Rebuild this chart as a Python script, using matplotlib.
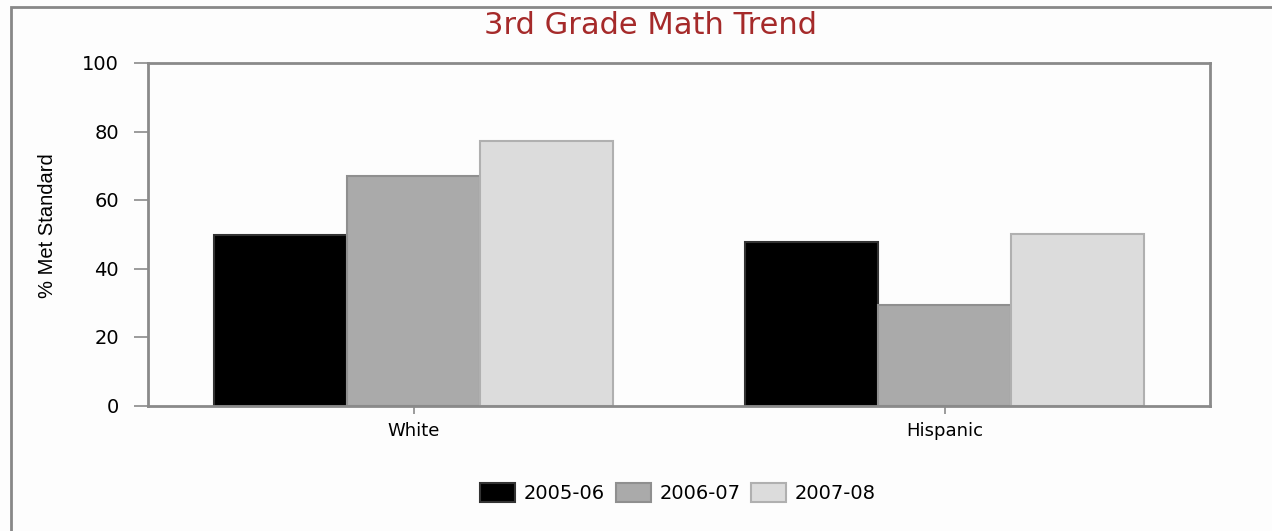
import matplotlib
matplotlib.use("Agg")
import matplotlib.pyplot as plt
from matplotlib.patches import Rectangle
import numpy as np

groups = ["White", "Hispanic"]
years = ["2005-06", "2006-07", "2007-08"]
vals_0506 = [49.7, 47.6]
vals_0607 = [67.1, 29.4]
vals_0708 = [77.3, 50.0]

fills = ["#000000", "#aaaaaa", "#dcdcdc"]
edges = ["#333333", "#8f8f8f", "#b0b0b0"]

fig = plt.figure(figsize=(12.72, 5.31), dpi=100)
fig.patch.set_facecolor("#fdfdfd")
# outer frame (runs off the right and bottom edges)
fig.patches.append(Rectangle((11 / 1272, -0.1), 1.2, 1 - 7 / 531 + 0.1,
                             transform=fig.transFigure, fill=False,
                             edgecolor="#888888", linewidth=2))

ax = fig.add_axes([148 / 1272, 1 - 405.5 / 531, (1210 - 148) / 1272, (405.5 - 63) / 531])
ax.set_facecolor("#fdfdfd")

x = np.arange(len(groups))
w = 0.25
for i, (vals, lab) in enumerate(zip([vals_0506, vals_0607, vals_0708], years)):
    ax.bar(x + (i - 1) * w, vals, w, color=fills[i], edgecolor=edges[i],
           linewidth=1.5, label=lab)

ax.set_xlim(-0.5, 1.5)
ax.set_ylim(0, 100)
ax.set_yticks([0, 20, 40, 60, 80, 100])
ax.set_xticks(x)
ax.set_xticklabels(groups)
for s in ax.spines.values():
    s.set_color("#8a8a8a")
    s.set_linewidth(2)
ax.tick_params(axis="y", length=10, width=1.2, color="#8a8a8a",
               labelsize=14, pad=11)
ax.tick_params(axis="x", length=6, width=1.2, color="#8a8a8a",
               labelsize=13, pad=6)
for t in ax.get_xticklabels() + ax.get_yticklabels():
    t.set_fontfamily("DejaVu Sans")

ax.set_ylabel("% Met Standard", fontsize=14.5, family="Liberation Sans")
ax.yaxis.set_label_coords(-0.086, 0.526)

fig.text(651 / 1272, 1 - 25 / 531, "3rd Grade Math Trend", color="#a52a2a",
         fontsize=22, ha="center", va="center", family="DejaVu Sans")

leg = fig.legend(loc="center", bbox_to_anchor=(678 / 1272, 1 - 493 / 531),
                 ncol=3, frameon=False, handlelength=1.8, handleheight=1.1,
                 handletextpad=0.45, columnspacing=0.55,
                 prop={"family": "DejaVu Sans", "size": 14})

fig.savefig("out.png", dpi=100, facecolor=fig.get_facecolor())
